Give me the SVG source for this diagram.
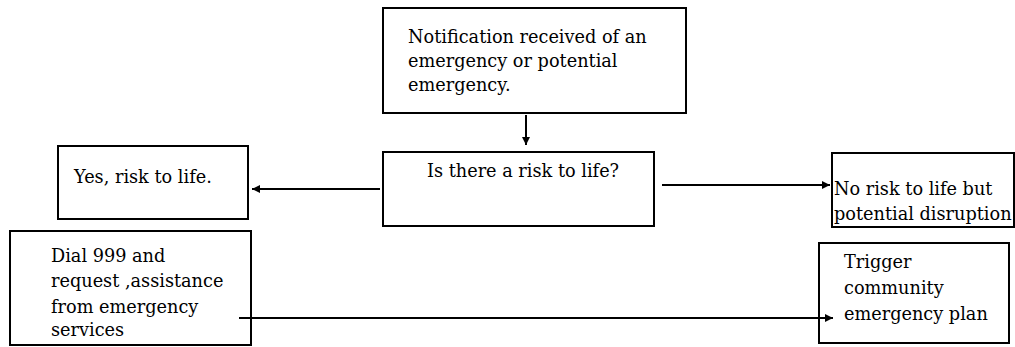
<svg xmlns="http://www.w3.org/2000/svg" width="1015" height="347" viewBox="0 0 1015 347">
<style>
.box{fill:#fff;stroke:#000;stroke-width:2}
.t{font-family:"DejaVu Serif","Liberation Serif",serif;font-size:17.7px;fill:#000}
.c{stroke:#000;stroke-width:2;fill:none}
</style>
<defs>
<marker id="ah" viewBox="0 0 10 10" refX="10" refY="5" markerWidth="4" markerHeight="4" orient="auto" markerUnits="strokeWidth">
<path d="M0,0 L10,5 L0,10 z" fill="#000"/>
</marker>
</defs>
<rect width="1015" height="347" fill="#fff"/>
<g id="n-notification">
<rect class="box" x="383" y="8" width="303" height="105"/>
<text class="t" x="408" y="43">Notification received of an</text>
<text class="t" x="408" y="67">emergency or potential</text>
<text class="t" x="408" y="91">emergency.</text>
</g>
<g id="n-question">
<rect class="box" x="383" y="152" width="271" height="74"/>
<text class="t" x="427" y="177">Is there a risk to life?</text>
</g>
<g id="n-yes">
<rect class="box" x="58" y="146" width="190" height="73"/>
<text class="t" x="74" y="183">Yes, risk to life.</text>
</g>
<g id="n-no">
<rect class="box" x="832" y="153" width="182" height="74"/>
<text class="t" x="834" y="195">No risk to life but</text>
<text class="t" x="834" y="220">potential disruption</text>
</g>
<g id="n-dial">
<rect class="box" x="10" y="231" width="241" height="114"/>
<text class="t" x="51" y="262">Dial 999 and</text>
<text class="t" x="51" y="287">request ,assistance</text>
<text class="t" x="51" y="313">from emergency</text>
<text class="t" x="51" y="336">services</text>
</g>
<g id="n-trigger">
<rect class="box" x="819" y="243" width="190" height="100"/>
<text class="t" x="844" y="268">Trigger</text>
<text class="t" x="844" y="294">community</text>
<text class="t" x="844" y="320">emergency plan</text>
</g>
<g id="connectors">
<line class="c" x1="526" y1="115" x2="526" y2="145" marker-end="url(#ah)"/>
<line class="c" x1="380" y1="189" x2="252" y2="189" marker-end="url(#ah)"/>
<line class="c" x1="662" y1="185" x2="830" y2="185" marker-end="url(#ah)"/>
<line class="c" x1="239" y1="318" x2="833" y2="318" marker-end="url(#ah)"/>
</g>
</svg>
